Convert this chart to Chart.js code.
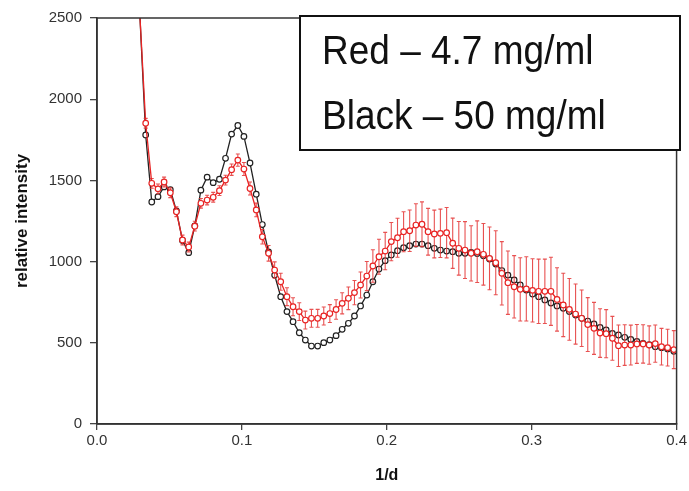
<!DOCTYPE html>
<html>
<head>
<meta charset="utf-8">
<script src="https://cdn.jsdelivr.net/npm/chart.js@4.4.1/dist/chart.umd.min.js"></script>
<style>
  html, body { margin: 0; padding: 0; background: #fff; }
  #wrap { width: 689px; height: 491px; }
</style>
</head>
<body>
<div id="wrap"><canvas id="scatterChart" width="689" height="491"></canvas></div>
<script>
// 1/d positions of the measured points
const oneOverD = [
  0.0294, 0.0336, 0.0378, 0.0421, 0.0463, 0.0506, 0.0548, 0.0590, 0.0633, 0.0675,
  0.0717, 0.0760, 0.0802, 0.0845, 0.0887, 0.0929, 0.0972, 0.1014, 0.1056, 0.1099,
  0.1141, 0.1184, 0.1226, 0.1268, 0.1311, 0.1353, 0.1396, 0.1438, 0.1480, 0.1523,
  0.1565, 0.1607, 0.1650, 0.1692, 0.1735, 0.1777, 0.1819, 0.1862, 0.1904, 0.1946,
  0.1989, 0.2031, 0.2074, 0.2116, 0.2158, 0.2201, 0.2243, 0.2285, 0.2328, 0.2370,
  0.2413, 0.2455, 0.2497, 0.2540, 0.2582, 0.2624, 0.2667, 0.2709, 0.2752, 0.2794,
  0.2836, 0.2879, 0.2921, 0.2963, 0.3006, 0.3048, 0.3091, 0.3133, 0.3175, 0.3218,
  0.3260, 0.3303, 0.3345, 0.3387, 0.3430, 0.3472, 0.3514, 0.3557, 0.3599, 0.3642,
  0.3684, 0.3726, 0.3769, 0.3811, 0.3853, 0.3896, 0.3938, 0.3981
];

// Red - 4.7 mg/ml
const red47 = [
  2550, 1852, 1482, 1448, 1490, 1424, 1307, 1133, 1090, 1218,
  1359, 1379, 1396, 1437, 1502, 1566, 1625, 1570, 1450, 1318,
  1153, 1051, 948, 876, 784, 722, 692, 640, 651, 651,
  665, 680, 705, 743, 774, 809, 856, 911, 973, 1030,
  1065, 1123, 1147, 1184, 1190, 1225, 1230, 1184, 1170, 1174,
  1178, 1113, 1082, 1071, 1051, 1061, 1045, 1020, 993, 928,
  870, 845, 829, 832, 823, 817, 817, 817, 767, 733,
  706, 677, 651, 612, 589, 560, 556, 528, 482, 486,
  486, 493, 493, 486, 495, 476, 470, 458
];

// error bar half-lengths for the red series
const red47Err = [
  0, 30, 30, 30, 30, 30, 30, 30, 30, 30,
  30, 30, 30, 30, 30, 35, 38, 40, 40, 42,
  45, 48, 50, 52, 55, 55, 55, 55, 55, 55,
  55, 55, 60, 65, 70, 75, 80, 90, 100, 108,
  115, 118, 120, 123, 128, 131, 138, 144, 147, 149,
  155, 155, 165, 175, 170, 190, 190, 193, 197, 195,
  195, 192, 195, 198, 195, 198, 198, 210, 195, 195,
  190, 185, 174, 166, 160, 150, 148, 135, 128, 125,
  123, 120, 118, 118, 115, 113, 113, 117
];

// Black - 50 mg/ml
const black50 = [
  2550, 1780, 1367, 1400, 1460, 1443, 1312, 1130, 1055, 1220,
  1440, 1520, 1486, 1507, 1636, 1785, 1838, 1771, 1607, 1415,
  1228, 1060, 917, 784, 692, 630, 562, 517, 480, 480,
  501, 517, 544, 583, 620, 665, 727, 794, 876, 954,
  1006, 1041, 1067, 1086, 1098, 1108, 1108, 1098, 1082, 1071,
  1065, 1061, 1051, 1051, 1056, 1050, 1036, 1016, 985, 945,
  917, 887, 856, 825, 800, 784, 764, 745, 727, 712,
  692, 671, 651, 634, 616, 595, 579, 558, 548, 534,
  521, 509, 497, 488, 476, 470, 462, 448
];

const xTickLabels = ['0.0', '0.1', '0.2', '0.3', '0.4'];
const yTickLabels = ['0', '500', '1000', '1500', '2000', '2500'];
const noteLines = ['Red \u2013 4.7 mg/ml', 'Black \u2013 50 mg/ml'];

const RED = 'rgb(232, 36, 36)';
const DARK = '#222';

function toPoints(ys) {
    return ys.map((y, i) => ({ x: oneOverD[i], y: y }));
}

// draws the vertical error bars under the red line
const errorBars = {
    id: 'errorBars',
    beforeDatasetDraw(chart, args) {
        if (args.index !== 0) return;
        const { ctx, chartArea, scales } = chart;
        const meta = chart.getDatasetMeta(0);
        ctx.save();
        ctx.beginPath();
        ctx.rect(chartArea.left, chartArea.top, chartArea.right - chartArea.left, chartArea.bottom - chartArea.top);
        ctx.clip();
        ctx.strokeStyle = 'rgba(228, 50, 50, 0.85)';
        ctx.lineWidth = 1.1;
        meta.data.forEach((pt, i) => {
            const err = red47Err[i];
            if (!err) return;
            const yTop = scales.y.getPixelForValue(red47[i] + err);
            const yBot = scales.y.getPixelForValue(red47[i] - err);
            ctx.beginPath();
            ctx.moveTo(pt.x, yTop);
            ctx.lineTo(pt.x, yBot);
            ctx.moveTo(pt.x - 2, yTop);
            ctx.lineTo(pt.x + 2, yTop);
            ctx.moveTo(pt.x - 2, yBot);
            ctx.lineTo(pt.x + 2, yBot);
            ctx.stroke();
        });
        ctx.restore();
    }
};

// frame round the plot and the boxed note top right
const frameAndNote = {
    id: 'frameAndNote',
    afterDraw(chart) {
        const { ctx, chartArea } = chart;
        ctx.save();
        ctx.strokeStyle = '#333';
        ctx.lineWidth = 1.5;
        ctx.strokeRect(chartArea.left, chartArea.top, chartArea.right - chartArea.left, chartArea.bottom - chartArea.top);

        ctx.fillStyle = '#fff';
        ctx.fillRect(300, 16, 380, 134);
        ctx.strokeStyle = '#111';
        ctx.lineWidth = 2;
        ctx.strokeRect(300, 16, 380, 134);

        ctx.fillStyle = '#111';
        ctx.font = '37px "Liberation Sans", Arial, sans-serif';
        ctx.textBaseline = 'alphabetic';
        const baselines = [64, 129];
        noteLines.forEach((txt, i) => {
            ctx.save();
            ctx.translate(322, baselines[i]);
            ctx.scale(1, 1.1);
            ctx.fillText(txt, 0, 0);
            ctx.restore();
        });
        ctx.restore();
    }
};

const ctx = document.getElementById('scatterChart').getContext('2d');

new Chart(ctx, {
    type: 'line',
    data: {
        datasets: [
            {
                label: noteLines[0],
                data: toPoints(red47),
                borderColor: RED,
                borderWidth: 1.3,
                pointRadius: 2.8,
                pointBorderWidth: 1.2,
                pointBorderColor: RED,
                pointBackgroundColor: '#fff',
                tension: 0,
                clip: 0
            },
            {
                label: noteLines[1],
                data: toPoints(black50),
                borderColor: DARK,
                borderWidth: 1.3,
                pointRadius: 2.8,
                pointBorderWidth: 1.2,
                pointBorderColor: DARK,
                pointBackgroundColor: '#fff',
                tension: 0,
                clip: 0
            }
        ]
    },
    options: {
        responsive: false,
        devicePixelRatio: 1,
        animation: false,
        layout: {
            padding: { top: 18, right: 12, bottom: 0, left: 0 }
        },
        plugins: {
            legend: { display: false },
            tooltip: { enabled: false }
        },
        scales: {
            x: {
                type: 'linear',
                min: 0,
                max: 0.4,
                afterFit: scale => { scale.height = 67; },
                afterBuildTicks: scale => {
                    scale.ticks = xTickLabels.map(t => ({ value: parseFloat(t) }));
                },
                ticks: {
                    callback: (v, i) => xTickLabels[i],
                    color: '#333',
                    font: { family: '"Liberation Sans", Arial, sans-serif', size: 15 },
                    padding: 2,
                    maxRotation: 0
                },
                grid: {
                    display: true,
                    drawOnChartArea: false,
                    drawTicks: true,
                    tickLength: 6,
                    color: '#444',
                    lineWidth: 1.3
                },
                border: { display: true, color: '#333', width: 1.5 },
                title: {
                    display: true,
                    text: '1/d',
                    color: '#111',
                    font: { family: '"Liberation Sans", Arial, sans-serif', size: 16, weight: 'bold' },
                    padding: 6
                }
            },
            y: {
                type: 'linear',
                min: 0,
                max: 2500,
                afterFit: scale => { scale.width = 97; },
                afterBuildTicks: scale => {
                    scale.ticks = yTickLabels.map(t => ({ value: Number(t) }));
                },
                ticks: {
                    callback: (v, i) => yTickLabels[i],
                    color: '#333',
                    font: { family: '"Liberation Sans", Arial, sans-serif', size: 15 },
                    padding: 8
                },
                grid: {
                    display: true,
                    drawOnChartArea: false,
                    drawTicks: true,
                    tickLength: 7,
                    color: '#444',
                    lineWidth: 1.3
                },
                border: { display: true, color: '#333', width: 1.5 },
                title: {
                    display: true,
                    text: 'relative intensity',
                    color: '#111',
                    font: { family: '"Liberation Sans", Arial, sans-serif', size: 17, weight: 'bold' },
                    padding: 12
                }
            }
        }
    },
    plugins: [errorBars, frameAndNote]
});
</script>
</body>
</html>
